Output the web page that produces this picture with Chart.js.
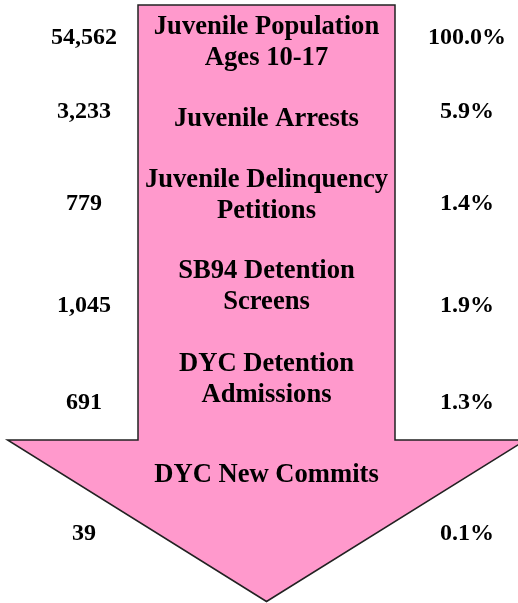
<!DOCTYPE html>
<html>
<head>
<meta charset="utf-8">
<script src="https://cdn.jsdelivr.net/npm/chart.js@4/dist/chart.umd.min.js"></script>
<style>
  html, body { margin: 0; padding: 0; background: #fff; }
  canvas { display: block; }
</style>
</head>
<body>
<canvas id="funnelChart" width="518" height="603"></canvas>
<script>
// stages of the juvenile justice system, top to bottom
const stages = [
  ['Juvenile Population', 'Ages 10-17'],
  ['Juvenile Arrests'],
  ['Juvenile Delinquency', 'Petitions'],
  ['SB94 Detention', 'Screens'],
  ['DYC Detention', 'Admissions'],
  ['DYC New Commits']
];
const counts = [54562, 3233, 779, 1045, 691, 39];
const shares = [100.0, 5.9, 1.4, 1.9, 1.3, 0.1];

// layout (in axis units, which match the 518x603 canvas)
const labelRows = [49.5, 126, 202, 293, 386, 482];
const numberRows = [44, 118, 210, 312, 409, 540];
const countX = 84;
const shareX = 467;
const centerX = 266.5;
const lineGap = 31;
const arrowOutline = [
  [138, 5], [395, 5], [395, 440], [526, 440],
  [266.5, 601.5], [7.5, 440], [138, 440]
];

const arrowPlugin = {
  id: 'arrowPlugin',
  beforeDatasetsDraw(chart) {
    const { ctx, scales: { x, y } } = chart;
    ctx.save();
    ctx.beginPath();
    arrowOutline.forEach(([px, py], i) => {
      const cx = x.getPixelForValue(px);
      const cy = y.getPixelForValue(py);
      if (i === 0) ctx.moveTo(cx, cy); else ctx.lineTo(cx, cy);
    });
    ctx.closePath();
    ctx.fillStyle = '#FF99CC';
    ctx.fill();
    ctx.lineWidth = 1.5;
    ctx.strokeStyle = '#222';
    ctx.stroke();
    ctx.restore();
  },
  afterDatasetsDraw(chart) {
    const { ctx, scales: { x, y } } = chart;
    ctx.save();
    ctx.fillStyle = '#000';
    ctx.textAlign = 'center';
    ctx.textBaseline = 'alphabetic';

    // stage names inside the arrow
    ctx.font = 'bold 26.6px "Liberation Serif", "Times New Roman", serif';
    stages.forEach((lines, i) => {
      const top = labelRows[i] - (lines.length - 1) * lineGap / 2;
      lines.forEach((line, j) => {
        ctx.fillText(line, x.getPixelForValue(centerX), y.getPixelForValue(top + j * lineGap));
      });
    });

    // counts on the left, share of population on the right
    ctx.font = 'bold 24px "Liberation Serif", "Times New Roman", serif';
    counts.forEach((v, i) => {
      const py = y.getPixelForValue(numberRows[i]);
      ctx.fillText(v.toLocaleString('en-US'), x.getPixelForValue(countX), py);
      ctx.fillText(shares[i].toFixed(1) + '%', x.getPixelForValue(shareX), py);
    });
    ctx.restore();
  }
};

new Chart(document.getElementById('funnelChart').getContext('2d'), {
  type: 'scatter',
  data: {
    datasets: [{
      data: counts.map((v, i) => ({ x: countX, y: numberRows[i] })),
      pointRadius: 0,
      showLine: false
    }]
  },
  options: {
    responsive: false,
    animation: false,
    devicePixelRatio: 1,
    layout: { padding: 0 },
    plugins: {
      legend: { display: false },
      tooltip: { enabled: false }
    },
    scales: {
      x: { type: 'linear', min: 0, max: 518, display: false },
      y: { type: 'linear', min: 0, max: 603, reverse: true, display: false }
    }
  },
  plugins: [arrowPlugin]
});
</script>
</body>
</html>
